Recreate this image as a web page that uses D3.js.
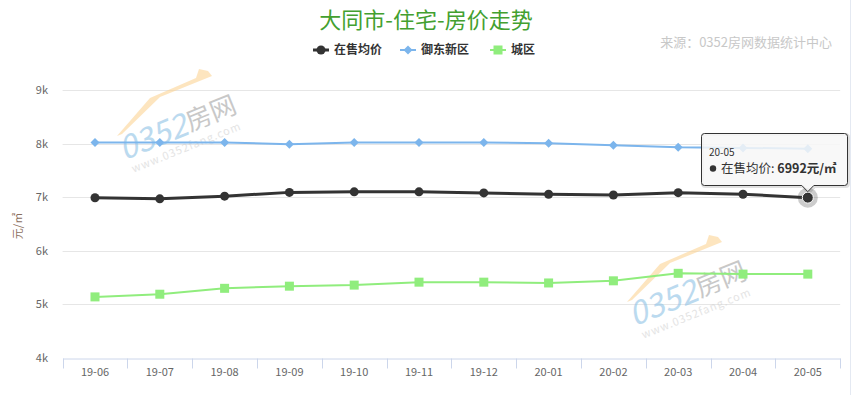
<!DOCTYPE html>
<html>
<head>
<meta charset="utf-8">
<script src="https://cdn.jsdelivr.net/npm/d3@7"></script>
<style>
  body { margin:0; background:#fff; }
  text { font-family: "Noto Sans CJK SC", "Noto Sans", sans-serif; }
</style>
</head>
<body>
<svg id="chart" width="853" height="395"></svg>
<script>
var months = ["19-06","19-07","19-08","19-09","19-10","19-11","19-12","20-01","20-02","20-03","20-04","20-05"];
var avgPrice = [6990,6970,7020,7090,7100,7100,7080,7055,7040,7085,7055,6992];
var yudong = [8020,8020,8020,7990,8020,8020,8020,8005,7970,7930,7920,7905];
var chengqu = [5140,5190,5300,5340,5360,5415,5415,5400,5440,5580,5565,5565];
var yTicks = [4000,5000,6000,7000,8000,9000];

var seriesList = [
  {name:"在售均价", data:avgPrice, color:"#333333", width:3, marker:"circle"},
  {name:"御东新区", data:yudong, color:"#7cb5ec", width:2, marker:"diamond"},
  {name:"城区", data:chengqu, color:"#90ed7d", width:2, marker:"square"}
];

var svg = d3.select("#chart");
var plotLeft = 62.6, plotRight = 840.2, plotTop = 90, plotBottom = 358;

var x = d3.scaleBand().domain(months).range([plotLeft, plotRight]);
var y = d3.scaleLinear().domain([4000,9000]).range([plotBottom, plotTop]);
var cx = function(d){ return x(d) + x.bandwidth()/2; };

// title + credits
svg.append("text").attr("x",426).attr("y",28).attr("text-anchor","middle")
  .attr("fill","#43a02f").style("font-size","22px").text("大同市-住宅-房价走势");
svg.append("text").attr("x",832).attr("y",47).attr("text-anchor","end")
  .attr("fill","#c8c8c8").style("font-size","13px").text("来源：0352房网数据统计中心");

// grid
svg.append("g").selectAll("line").data(yTicks.slice(1)).join("line")
  .attr("x1",plotLeft).attr("x2",plotRight)
  .attr("y1",function(d){return Math.round(y(d))+0.5;}).attr("y2",function(d){return Math.round(y(d))+0.5;})
  .attr("stroke","#e6e6e6");

// y labels
svg.append("g").selectAll("text").data(yTicks).join("text")
  .attr("x",48).attr("y",function(d){return y(d)+4;})
  .attr("text-anchor","end").attr("fill","#666").style("font-size","11px")
  .text(function(d){return (d/1000)+"k";});

svg.append("text").attr("transform","translate(22,226) rotate(-90)")
  .attr("text-anchor","middle").attr("fill","#8a6e5c").style("font-size","11px").text("元/㎡");

// x axis
var xAxis = d3.axisBottom(x).tickSize(0).tickPadding(10);
var gx = svg.append("g").attr("transform","translate(0,"+(plotBottom+0.5)+")").call(xAxis);
gx.select(".domain").attr("stroke","#ccd6eb");
gx.selectAll("text").attr("fill","#666").style("font-size","11px")
  .style("font-family","'Noto Sans CJK SC', sans-serif");
gx.append("g").selectAll("line").data(months.concat(["end"])).join("line")
  .attr("x1",function(d,i){return Math.round(plotLeft + i*x.bandwidth())+0.5;})
  .attr("x2",function(d,i){return Math.round(plotLeft + i*x.bandwidth())+0.5;})
  .attr("y1",0).attr("y2",10).attr("stroke","#ccd6eb");

// right frame line
svg.append("line").attr("x1",850.5).attr("x2",850.5).attr("y1",0).attr("y2",395).attr("stroke","#e4e9f2");

// watermark
function watermark(dx, dy){
  var w = svg.append("g").attr("transform","translate("+dx+","+dy+")").attr("opacity",0.6);
  w.append("path").attr("d","M117,136 L150,98 L196,78 L199,69 L208,71 L212,76 L160,97 L122,134 Z").attr("fill","#fcd596");
  var g = w.append("g").attr("transform","translate(116,140) rotate(-22)");
  g.append("text").attr("x",0).attr("y",22).attr("fill","#8fc3e6").style("font-size","32px")
    .style("font-style","italic").text("0352");
  g.append("text").attr("x",72).attr("y",20).attr("fill","#a5a5a5").style("font-size","26px").text("房网");
  g.append("text").attr("x",4).attr("y",37).attr("fill","#d2d2d2").style("font-size","11px")
    .style("letter-spacing","1px").text("www.0352fang.com");
}
watermark(0,0);
watermark(510,166);

// lines
var line = d3.line().x(function(d,i){return cx(months[i]);}).y(function(d){return y(d);});
seriesList.forEach(function(s){
  svg.append("path").datum(s.data).attr("d",line).attr("fill","none")
    .attr("stroke",s.color).attr("stroke-width",s.width).attr("stroke-linejoin","round");
});

function drawMarker(g, type, color, px, py){
  if(type==="circle") g.append("circle").attr("cx",px).attr("cy",py).attr("r",4.5).attr("fill",color);
  else if(type==="diamond") g.append("path").attr("d","M"+px+","+(py-4.5)+"l4.5,4.5l-4.5,4.5l-4.5,-4.5z").attr("fill",color);
  else g.append("rect").attr("x",px-4.5).attr("y",py-4.5).attr("width",9).attr("height",9).attr("fill",color);
}
seriesList.forEach(function(s){
  var g = svg.append("g");
  s.data.forEach(function(v,i){
    if(s.marker==="circle" && i===months.length-1) return;
    drawMarker(g, s.marker, s.color, cx(months[i]), y(v));
  });
});

// hover point
var hx = cx(months[11]), hy = y(avgPrice[11]);
svg.append("circle").attr("cx",hx).attr("cy",hy).attr("r",10).attr("fill","#333").attr("opacity",0.25);
svg.append("circle").attr("cx",hx).attr("cy",hy).attr("r",5.5).attr("fill","#333").attr("stroke","#fff").attr("stroke-width",1);

// legend
var leg = svg.append("g");
var legX = [313, 400, 490];
seriesList.forEach(function(s,i){
  var lx = legX[i], ly = 50;
  leg.append("line").attr("x1",lx).attr("x2",lx+16).attr("y1",ly).attr("y2",ly)
    .attr("stroke",s.color).attr("stroke-width",s.width);
  drawMarker(leg, s.marker, s.color, lx+8, ly);
  leg.append("text").attr("x",lx+21).attr("y",ly+4).attr("fill","#333")
    .style("font-size","12px").style("font-weight","bold").text(s.name);
});

// tooltip
var tip = svg.append("g");
var tx0 = 701.5, ty0 = 133.5, tw = 146, th = 52;
var tipPath = "M"+(tx0+3)+","+ty0+" L"+(tx0+tw-3)+","+ty0+" Q"+(tx0+tw)+","+ty0+" "+(tx0+tw)+","+(ty0+3)+
  " L"+(tx0+tw)+","+(ty0+th-3)+" Q"+(tx0+tw)+","+(ty0+th)+" "+(tx0+tw-3)+","+(ty0+th)+
  " L"+(hx+6)+","+(ty0+th)+" L"+hx+","+(hy-6)+" L"+(hx-6)+","+(ty0+th)+
  " L"+(tx0+3)+","+(ty0+th)+" Q"+tx0+","+(ty0+th)+" "+tx0+","+(ty0+th-3)+
  " L"+tx0+","+(ty0+3)+" Q"+tx0+","+ty0+" "+(tx0+3)+","+ty0+" Z";
tip.append("path").attr("d",tipPath).attr("transform","translate(1,1)").attr("fill","none")
  .attr("stroke","#000").attr("stroke-opacity",0.12).attr("stroke-width",3);
tip.append("path").attr("d",tipPath).attr("fill","rgba(247,247,247,0.85)").attr("stroke","#333").attr("stroke-width",1);
tip.append("text").attr("x",709).attr("y",156).attr("fill","#333").style("font-size","10px").text(months[11]);
tip.append("circle").attr("cx",713).attr("cy",168.5).attr("r",3.2).attr("fill","#333");
var t2 = tip.append("text").attr("x",721).attr("y",173).attr("fill","#333").style("font-size","12.5px");
t2.append("tspan").text("在售均价: ");
t2.append("tspan").style("font-weight","bold").text(avgPrice[11]+"元/㎡");
</script>
</body>
</html>
